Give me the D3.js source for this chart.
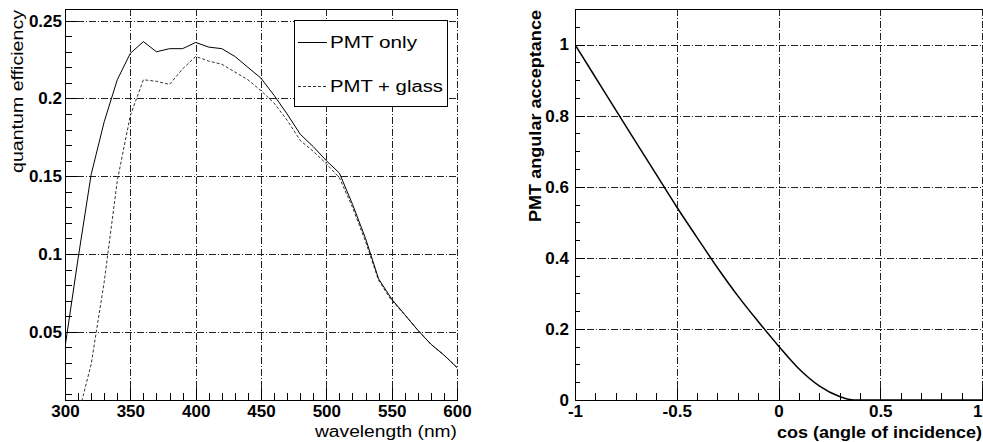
<!DOCTYPE html>
<html>
<head>
<meta charset="utf-8">
<script src="https://cdn.jsdelivr.net/npm/d3@7/dist/d3.min.js"></script>
<style>
  html, body { margin: 0; padding: 0; background: #fff; }
  svg { display: block; }
  text { font-family: "Liberation Sans", Arial, Helvetica, sans-serif; fill: #000; }
</style>
</head>
<body>
<svg id="chart" width="983" height="442"></svg>
<script>
// ---------------- DATA ----------------
// Left panel: quantum efficiency vs wavelength
const wavelength = [300,310,320,330,340,350,360,370,380,390,400,410,420,430,440,450,460,470,480,490,500,510,520,530,540,550,560,570,580,590,600];
const qePmtOnly  = [0.040,0.097,0.151,0.185,0.212,0.229,0.2365,0.230,0.232,0.232,0.236,0.233,0.232,0.227,0.220,0.213,0.202,0.190,0.177,0.169,0.160,0.152,0.132,0.110,0.084,0.071,0.061,0.051,0.042,0.035,0.027];
const glassWavelength = [310,320,330,340,350,360,370,380,390,400,410,420,430,440,450,460,470,480,490,500,510,520,530,540,550,560,570,580,590,600];
const qePmtGlass = [-0.004,0.029,0.082,0.147,0.189,0.212,0.211,0.209,0.219,0.227,0.224,0.222,0.217,0.212,0.205,0.197,0.186,0.173,0.166,0.158,0.149,0.130,0.108,0.083,0.070,0.061,0.051,0.042,0.035,0.027];
const legendLabels = ["PMT only", "PMT + glass"];
const leftXTicks = [300,350,400,450,500,550,600];
const leftYTicks = [0.05,0.1,0.15,0.2,0.25];
const leftYTickLabels = ["0.05","0.1","0.15","0.2","0.25"];

// Right panel: angular acceptance vs cos(angle of incidence)
const cosAngle   = [-1.0,-0.9,-0.8,-0.7,-0.6,-0.5,-0.4,-0.3,-0.2,-0.1,0.0,0.1,0.2,0.3,0.37,0.4,0.5,0.6,0.7,0.8,0.9,1.0];
const acceptance = [1.0,0.908,0.816,0.725,0.634,0.543,0.457,0.372,0.293,0.221,0.152,0.088,0.040,0.010,0.0,0.0,0.0,0.0,0.0,0.0,0.0,0.0];
const rightXTicks = [-1,-0.5,0,0.5,1];
const rightXTickLabels = ["-1","-0.5","0","0.5","1"];
const rightYTicks = [0,0.2,0.4,0.6,0.8,1];
const rightYTickLabels = ["0","0.2","0.4","0.6","0.8","1"];

// ---------------- DRAW ----------------
const svg = d3.select("#chart");
const GRID_DASH = "7,2,1,2";
const GRID_COL = "#222";

function panel(opt) {
  const g = svg.append("g");
  const x = d3.scaleLinear().domain(opt.xDomain).range([opt.left, opt.right]);
  const y = d3.scaleLinear().domain(opt.yDomain).range([opt.bottom, opt.top]);

  const clipId = "clip" + opt.id;
  svg.append("clipPath").attr("id", clipId).append("rect")
    .attr("x", opt.left).attr("y", opt.top)
    .attr("width", opt.right - opt.left + 1).attr("height", opt.bottom - opt.top + 1);

  // grid
  const grid = g.append("g").attr("shape-rendering", "crispEdges");
  grid.selectAll(".gx").data(opt.xTicks).enter().append("line")
    .attr("x1", d => Math.round(x(d)) + 0.5).attr("x2", d => Math.round(x(d)) + 0.5)
    .attr("y1", opt.top).attr("y2", opt.bottom)
    .attr("stroke", GRID_COL).attr("stroke-width", 1).attr("stroke-dasharray", GRID_DASH);
  grid.selectAll(".gy").data(opt.yTicks).enter().append("line")
    .attr("y1", d => Math.round(y(d)) + 0.5).attr("y2", d => Math.round(y(d)) + 0.5)
    .attr("x1", opt.left).attr("x2", opt.right)
    .attr("stroke", GRID_COL).attr("stroke-width", 1).attr("stroke-dasharray", GRID_DASH);

  // minor ticks
  const xAxisMinor = d3.axisBottom(x).tickValues(opt.xMinor).tickSize(-opt.minorLen).tickFormat("");
  const gxm = g.append("g").attr("transform", `translate(0,${opt.bottom})`).call(xAxisMinor);
  const yAxisMinor = d3.axisLeft(y).tickValues(opt.yMinor).tickSize(-opt.minorLenY).tickFormat("");
  const gym = g.append("g").attr("transform", `translate(${opt.left},0)`).call(yAxisMinor);

  // major ticks + labels
  const xAxis = d3.axisBottom(x).tickValues(opt.xTicks).tickSize(-opt.majorLen)
    .tickPadding(opt.xPad).tickFormat((d, i) => opt.xLabels[i]);
  const gx = g.append("g").attr("transform", `translate(0,${opt.bottom})`).call(xAxis);
  const yAxis = d3.axisLeft(y).tickValues(opt.yTicks).tickSize(-opt.majorLenY)
    .tickPadding(opt.yPad).tickFormat((d, i) => opt.yLabels[i]);
  const gy = g.append("g").attr("transform", `translate(${opt.left},0)`).call(yAxis);

  [gxm, gym, gx, gy].forEach(a => {
    a.select(".domain").remove();
    a.selectAll("line").attr("stroke", "#000").attr("shape-rendering", "crispEdges");
    a.selectAll("text").style("font-family", '"Liberation Sans", Arial, sans-serif')
      .style("font-size", "17px").style("font-weight", "bold").attr("fill", "#000");
  });

  // frame: left, bottom, top
  const fr = g.append("g").attr("shape-rendering", "crispEdges").attr("stroke", "#000").attr("stroke-width", 1);
  fr.append("line").attr("x1", opt.left + 0.5).attr("x2", opt.left + 0.5).attr("y1", opt.top).attr("y2", opt.bottom + 1);
  fr.append("line").attr("x1", opt.left).attr("x2", opt.right + 1).attr("y1", opt.bottom + 0.5).attr("y2", opt.bottom + 0.5);
  fr.append("line").attr("x1", opt.left).attr("x2", opt.right + 1).attr("y1", opt.top + 0.5).attr("y2", opt.top + 0.5);

  // titles
  g.append("text").attr("x", opt.xTitleEnd).attr("y", opt.xTitleY)
    .attr("text-anchor", "end").style("font-size", "16px").style("font-weight", opt.titleWeight)
    .attr("textLength", opt.xTitleLen).attr("lengthAdjust", "spacingAndGlyphs")
    .text(opt.xTitle);
  g.append("text").attr("transform", `translate(${opt.yTitleX},${opt.yTitleEnd}) rotate(-90)`)
    .attr("text-anchor", "end").style("font-size", "16px").style("font-weight", opt.titleWeight)
    .attr("textLength", opt.yTitleLen).attr("lengthAdjust", "spacingAndGlyphs")
    .text(opt.yTitle);

  return { g, x, y, clipId, gx };
}

// ---- Left panel ----
const L = panel({
  id: "L", left: 65, right: 457, top: 9, bottom: 400,
  xDomain: [300, 600], yDomain: [0.0061, 0.2575],
  xTicks: leftXTicks, xLabels: leftXTicks.map(String),
  yTicks: leftYTicks, yLabels: leftYTickLabels,
  xMinor: d3.range(300, 601, 10), yMinor: d3.range(0.01, 0.255, 0.01),
  minorLen: 7, majorLen: 12, minorLenY: 7, majorLenY: 12,
  xPad: 5, yPad: 3,
  xTitle: "wavelength (nm)", xTitleEnd: 457, xTitleY: 437, xTitleLen: 142,
  yTitle: "quantum efficiency", yTitleX: 23, yTitleEnd: 10, yTitleLen: 163,
  titleWeight: "normal"
});

const lineL = d3.line().x(d => L.x(d[0])).y(d => L.y(d[1]));
L.g.append("path").datum(d3.zip(glassWavelength, qePmtGlass))
  .attr("clip-path", `url(#${L.clipId})`)
  .attr("d", lineL).attr("fill", "none").attr("stroke", "#333").attr("stroke-width", 1)
  .attr("stroke-dasharray", "3,2");
L.g.append("path").datum(d3.zip(wavelength, qePmtOnly))
  .attr("clip-path", `url(#${L.clipId})`)
  .attr("d", lineL).attr("fill", "none").attr("stroke", "#000").attr("stroke-width", 1);

// legend
const leg = L.g.append("g");
leg.append("rect").attr("x", 294.5).attr("y", 20.5).attr("width", 153).attr("height", 86)
  .attr("fill", "#fff").attr("stroke", "#000").attr("stroke-width", 1);
const legY = [42, 86];
const legDash = [null, "3,2"];
legendLabels.forEach((lab, i) => {
  leg.append("line").attr("x1", 298).attr("x2", 327).attr("y1", legY[i] + 0.5).attr("y2", legY[i] + 0.5)
    .attr("stroke", i === 0 ? "#000" : "#333").attr("stroke-width", 1)
    .attr("stroke-dasharray", legDash[i]);
  leg.append("text").attr("x", 330).attr("y", legY[i] + 6)
    .style("font-size", "16px")
    .attr("textLength", i === 0 ? 87 : 113).attr("lengthAdjust", "spacingAndGlyphs")
    .text(lab);
});

// ---- Right panel ----
const R = panel({
  id: "R", left: 575, right: 982, top: 9, bottom: 400,
  xDomain: [-1, 1], yDomain: [0, 1.1],
  xTicks: rightXTicks, xLabels: rightXTickLabels,
  yTicks: rightYTicks, yLabels: rightYTickLabels,
  xMinor: d3.range(-1, 1.001, 0.1), yMinor: d3.range(0, 1.08, 0.05),
  minorLen: 7, majorLen: 12, minorLenY: 5, majorLenY: 10,
  xPad: 5, yPad: 6,
  xTitle: "cos (angle of incidence)", xTitleEnd: 982, xTitleY: 438, xTitleLen: 205,
  yTitle: "PMT angular acceptance", yTitleX: 541, yTitleEnd: 10, yTitleLen: 212,
  titleWeight: "bold"
});
// keep the last tick label ("1") inside the page
R.gx.selectAll(".tick text").filter(d => d === 1).attr("text-anchor", "end").attr("dx", "0");

const lineR = d3.line().x(d => R.x(d[0])).y(d => R.y(d[1])).curve(d3.curveMonotoneX);
R.g.append("path").datum(d3.zip(cosAngle, acceptance))
  .attr("clip-path", `url(#${R.clipId})`)
  .attr("d", lineR).attr("fill", "none").attr("stroke", "#000").attr("stroke-width", 1.5);
</script>
</body>
</html>
